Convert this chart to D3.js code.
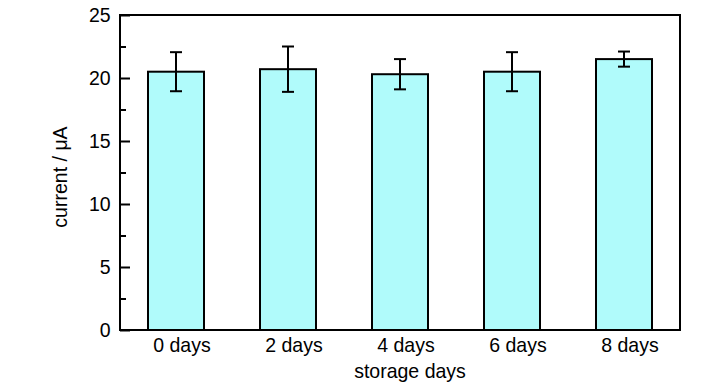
<!DOCTYPE html>
<html>
<head>
<meta charset="utf-8">
<script src="https://cdn.jsdelivr.net/npm/d3@7"></script>
<style>
  html, body { margin: 0; padding: 0; background: #fff; }
  text { font-family: "Liberation Sans", Arial, sans-serif; fill: #000; }
</style>
</head>
<body>
<svg id="chart" width="728" height="390"></svg>
<script>
const categories = ["0 days", "2 days", "4 days", "6 days", "8 days"];
const values = [20.5, 20.7, 20.3, 20.5, 21.5];
const errors = [1.55, 1.8, 1.2, 1.55, 0.6];
const majorTicks = [0, 5, 10, 15, 20, 25];
const minorTicks = [2.5, 7.5, 12.5, 17.5, 22.5];
const xTitle = "storage days";
const yTitle = "current / μA";

const FS = 21, SX = 0.93;
const svg = d3.select("#chart");
const m = { left: 120, right: 48, top: 15, bottom: 60 };
const W = 728, H = 390;
const x0 = m.left, x1 = W - m.right, y0 = H - m.bottom, y1 = m.top;

const x = d3.scaleBand().domain(categories).range([x0, x1]).paddingInner(0.5).paddingOuter(0.25);
const y = d3.scaleLinear().domain([0, 25]).range([y0, y1]);

// bars
svg.append("g").selectAll("rect").data(values).join("rect")
  .attr("x", (d, i) => x(categories[i]))
  .attr("y", d => y(d))
  .attr("width", x.bandwidth())
  .attr("height", d => y(0) - y(d))
  .attr("fill", "#b0fbfb")
  .attr("stroke", "#000")
  .attr("stroke-width", 2);

// error bars
const eb = svg.append("g").attr("stroke", "#000").attr("stroke-width", 2);
values.forEach((v, i) => {
  const cx = x(categories[i]) + x.bandwidth() / 2;
  const e = errors[i];
  eb.append("line").attr("x1", cx).attr("x2", cx).attr("y1", y(v + e)).attr("y2", y(v - e));
  eb.append("line").attr("x1", cx - 6).attr("x2", cx + 6).attr("y1", y(v + e)).attr("y2", y(v + e));
  eb.append("line").attr("x1", cx - 6).attr("x2", cx + 6).attr("y1", y(v - e)).attr("y2", y(v - e));
});

// frame
svg.append("rect").attr("x", x0).attr("y", y1).attr("width", x1 - x0).attr("height", y0 - y1)
  .attr("fill", "none").attr("stroke", "#000").attr("stroke-width", 2);

// y axis with inward ticks
const yAxis = d3.axisLeft(y).tickValues(majorTicks).tickSizeInner(-10).tickSizeOuter(0).tickPadding(10)
  .tickFormat(d3.format("d"));
const gy = svg.append("g").attr("transform", `translate(${x0},0)`).call(yAxis);
gy.select(".domain").remove();
gy.selectAll(".tick line").attr("stroke", "#000").attr("stroke-width", 2);
gy.selectAll(".tick text").attr("font-size", FS).attr("fill", "#000")
  .attr("font-family", "Liberation Sans, Arial, sans-serif")
  .attr("transform", `scale(${SX},1)`);

const yMinor = d3.axisLeft(y).tickValues(minorTicks).tickSizeInner(-6).tickSizeOuter(0).tickFormat("");
const gym = svg.append("g").attr("transform", `translate(${x0},0)`).call(yMinor);
gym.select(".domain").remove();
gym.selectAll(".tick line").attr("stroke", "#000").attr("stroke-width", 2);

// x axis labels
const xAxis = d3.axisBottom(x).tickSize(0).tickPadding(7);
const gx = svg.append("g").attr("transform", `translate(0,${y0})`).call(xAxis);
gx.select(".domain").remove();
gx.selectAll(".tick text").attr("font-size", FS).attr("fill", "#000")
  .attr("font-family", "Liberation Sans, Arial, sans-serif")
  .attr("transform", `translate(6,0) scale(${SX},1)`);

// titles
svg.append("text").attr("transform", `translate(${(x0 + x1) / 2 + 10},378) scale(${SX},1)`)
  .attr("text-anchor", "middle").attr("font-size", FS).text(xTitle);
svg.append("text").attr("transform", `translate(67,177) rotate(-90) scale(${SX},1)`)
  .attr("text-anchor", "middle").attr("font-size", FS).text(yTitle);
</script>
</body>
</html>
